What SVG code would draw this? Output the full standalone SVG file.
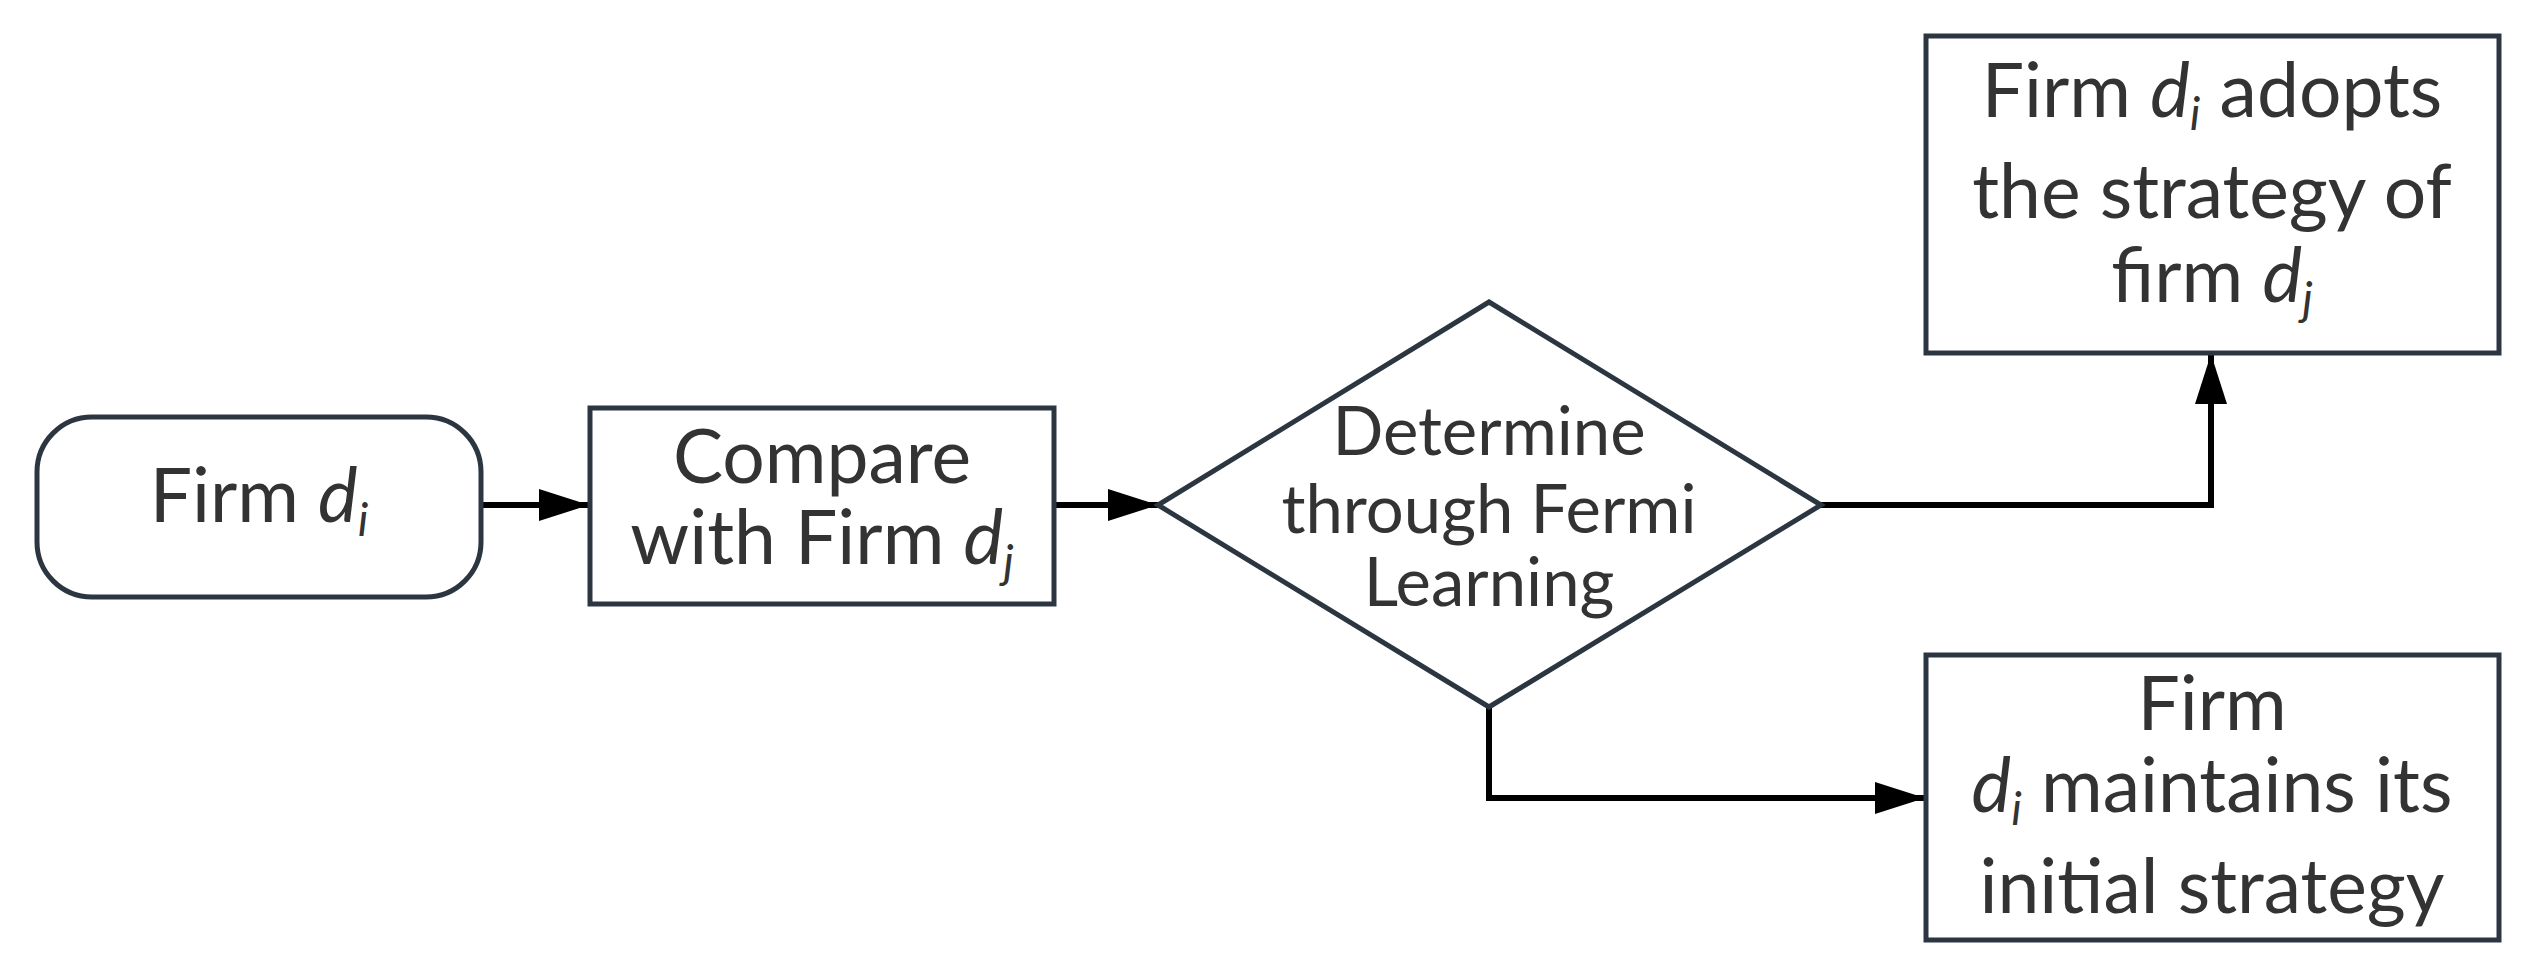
<svg xmlns="http://www.w3.org/2000/svg" width="2532" height="977" viewBox="0 0 2532 977">
<style>
.shape{fill:#ffffff;stroke:#2b3640;stroke-width:5}
.conn{fill:none;stroke:#000000;stroke-width:6}
text{font-family:"Lato","Open Sans","Liberation Sans",sans-serif;fill:#333333;text-anchor:middle}
.big{font-size:75px}
.mid{font-size:67px}
.box{font-size:75px}
.it{font-style:italic}
.sub{font-size:46px;font-style:italic}
</style>
<defs>
<marker id="arr" viewBox="0 0 50 32" refX="50" refY="16" markerWidth="50" markerHeight="32" markerUnits="userSpaceOnUse" orient="auto">
<path d="M0,0 L50,16 L0,32 z" fill="#000"/>
</marker>
</defs>
<rect width="2532" height="977" fill="#ffffff"/>
<g id="connectors">
<path class="conn" d="M481,505 L589,505" marker-end="url(#arr)"/>
<path class="conn" d="M1054,505 L1158,505" marker-end="url(#arr)"/>
<path class="conn" d="M1821,505 L2211,505 L2211,354" marker-end="url(#arr)"/>
<path class="conn" d="M1489,707 L1489,798 L1925,798" marker-end="url(#arr)"/>
</g>
<g id="start">
<rect class="shape" x="37" y="417" width="444" height="180" rx="55" ry="55"/>
<text class="big" x="259" y="522">Firm <tspan class="it">d</tspan><tspan class="sub" dy="14">i</tspan></text>
</g>
<g id="compare">
<rect class="shape" x="590" y="408" width="464" height="196"/>
<text class="big" x="822" y="483">Compare</text>
<text class="big" x="822" y="564">with Firm <tspan class="it">d</tspan><tspan class="sub" dy="14">j</tspan></text>
</g>
<g id="decision">
<polygon class="shape" points="1489,302 1821,505 1489,707 1158,505"/>
<text class="mid" x="1489" y="455">Determine</text>
<text class="mid" x="1489" y="533">through Fermi</text>
<text class="mid" x="1489" y="606">Learning</text>
</g>
<g id="adopt">
<rect class="shape" x="1926" y="36" width="573" height="317"/>
<text class="box" x="2212" y="117">Firm <tspan class="it">d</tspan><tspan class="sub" dy="13">i</tspan><tspan dy="-13"> adopts</tspan></text>
<text class="box" x="2212" y="218">the strategy of</text>
<text class="box" x="2212" y="302">firm <tspan class="it">d</tspan><tspan class="sub" dy="13">j</tspan></text>
</g>
<g id="maintain">
<rect class="shape" x="1926" y="655" width="573" height="285"/>
<text class="box" x="2212" y="730">Firm</text>
<text class="box" x="2212" y="812"><tspan class="it">d</tspan><tspan class="sub" dy="13">i</tspan><tspan dy="-13"> maintains its</tspan></text>
<text class="box" x="2212" y="913">initial strategy</text>
</g>
</svg>
